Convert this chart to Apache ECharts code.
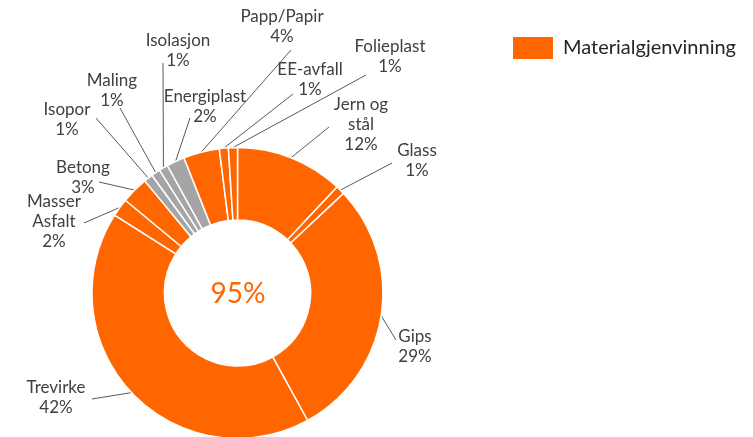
<!DOCTYPE html>
<html><head><meta charset="utf-8">
<script src="https://cdn.jsdelivr.net/npm/echarts@6/dist/echarts.min.js"></script>
<style>html,body{margin:0;padding:0;background:#fff}#c{width:753px;height:437px}</style>
</head><body><div id="c"></div>
<script>
// Data (clockwise from 12 o'clock)
const categories = ['Jern og\nstål', 'Glass', 'Gips', 'Trevirke', 'Masser\nAsfalt', 'Betong', 'Isopor', 'Maling', 'Isolasjon', 'Energiplast', 'Papp/Papir', 'EE-avfall', 'Folieplast'];
const values = [12, 1, 29, 42, 2, 3, 1, 1, 1, 2, 4, 1, 1];
const isRecycled = [true, true, true, true, true, true, false, false, false, false, true, true, true];
const centerText = '95%';
const legendText = 'Materialgjenvinning';

// Label layout (text centre) and leader-line end point per slice
const labelPos = [[361,125],[417,161],[415,347],[56,398],[54,222],[83,178],[67,120],[112,91],[178,51],[205,107],[282,27],[310,80],[390,57]];
const lineEnd = [[329,127],[392,163],[396,340],[92,399],[84,223],[99,182],[96,118],[120,108],[163,63],[190,118],[291,50],[293,94],[366,75]];

const ORANGE = '#FF6600', GRAY = '#A5A5A5', FONT = 'Lato, "Open Sans", sans-serif';

const chart = echarts.init(document.getElementById('c'), null, {renderer: 'canvas'});
chart.setOption({
  animation: false,
  backgroundColor: '#fff',
  graphic: [
    {type: 'rect', shape: {x: 513, y: 37, width: 40, height: 22}, style: {fill: ORANGE}},
    {type: 'text', x: 563, y: 48, style: {text: legendText, fill: '#262626', font: '20px ' + FONT, textVerticalAlign: 'middle'}},
    {type: 'text', x: 238, y: 294, style: {text: centerText, fill: ORANGE, font: '28px ' + FONT, textAlign: 'center', textVerticalAlign: 'middle'}}
  ],
  series: [{
    type: 'pie',
    center: [237.5, 293],
    radius: [73, 145.5],
    startAngle: 90,
    clockwise: true,
    avoidLabelOverlap: false,
    itemStyle: {borderColor: '#fff', borderWidth: 1.5},
    label: {
      show: true, position: 'outside', formatter: '{b}\n{c}%',
      color: '#404040', fontFamily: FONT, fontSize: 17, lineHeight: 20, align: 'center'
    },
    labelLine: {show: true, length: 10, length2: 10, lineStyle: {color: '#595959', width: 1}},
    labelLayout: function (p) {
      const i = p.dataIndex;
      const start = p.labelLinePoints ? p.labelLinePoints[0] : lineEnd[i];
      return {
        x: labelPos[i][0], y: labelPos[i][1], align: 'center', verticalAlign: 'middle',
        labelLinePoints: [start, lineEnd[i], lineEnd[i]]
      };
    },
    data: categories.map((n, i) => ({name: n, value: values[i], itemStyle: {color: isRecycled[i] ? ORANGE : GRAY}}))
  }]
});
</script></body></html>
